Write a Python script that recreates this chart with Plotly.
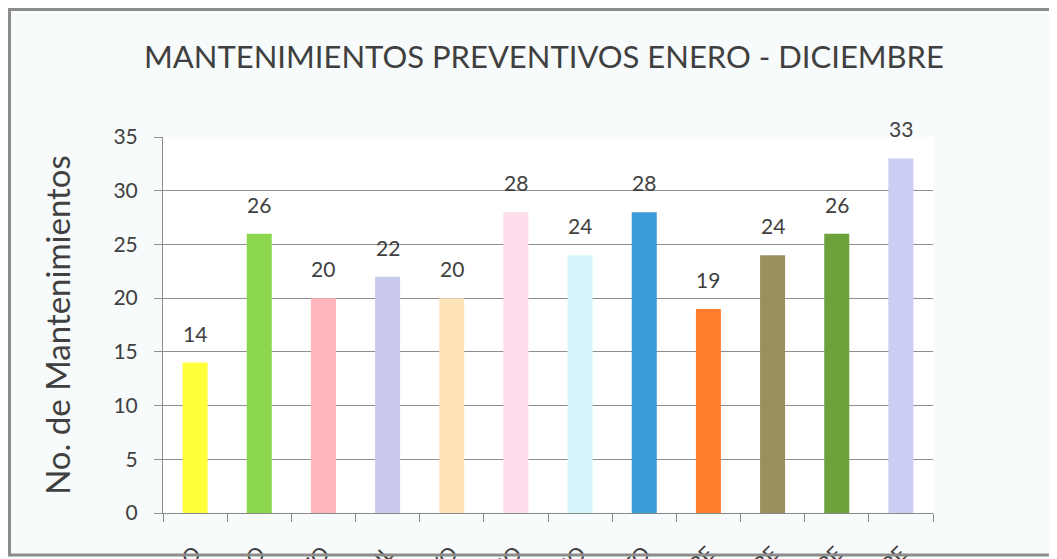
import plotly.graph_objects as go

months = ["ENERO", "FEBRERO", "MARZO", "ABRIL", "MAYO", "JUNIO", "JULIO",
          "AGOSTO", "SEPTIEMBRE", "OCTUBRE", "NOVIEMBRE", "DICIEMBRE"]
values = [14, 26, 20, 22, 20, 28, 24, 28, 19, 24, 26, 33]
colors = ["#FFFF3A", "#8CD64E", "#FFB5BB", "#C9C9F0", "#FEE3B8", "#FDDCEB",
          "#D6F4FA", "#3C9BDB", "#FF7F2F", "#9A8F5E", "#6CA23C", "#CACDF4"]
y_ticks = [0, 5, 10, 15, 20, 25, 30, 35]

FONT = "Lato"
TXT = "#404040"

# page body has an 8px margin; lay out in reference pixel coordinates
OFF = 8
W, H = 1057 - OFF, 559 - OFF
AX_L, AX_R, AX_T, AX_B = 163, 933, 137, 513   # plot area in reference px
L, T = AX_L - OFF, AX_T - OFF
R, B = W - (AX_R - OFF), H - (AX_B - OFF)
pw, ph = AX_R - AX_L, AX_B - AX_T

def px_x(x):
    return (x - AX_L) / pw

def px_y(y):
    return (AX_B - y) / ph

fig = go.Figure()
fig.add_trace(go.Bar(
    x=months, y=values, marker_color=colors, marker_line_width=0,
    width=0.39, hoverinfo="x+y",
))
for m, v in zip(months, values):
    fig.add_annotation(x=m, y=v, text=str(v), showarrow=False,
                       yanchor="bottom", yshift=15,
                       font=dict(family=FONT, size=21, color=TXT))

fig.update_layout(
    width=W, height=H,
    margin=dict(l=L, r=R, t=T, b=B, autoexpand=False),
    paper_bgcolor="#F8FBFB", plot_bgcolor="#FFFFFF",
    showlegend=False,
    title=dict(text="MANTENIMIENTOS PREVENTIVOS ENERO - DICIEMBRE",
               x=((148 + 940) / 2 - OFF) / W, xanchor="center",
               y=1 - (57 - OFF) / H, yanchor="middle",
               font=dict(family=FONT, size=31, color=TXT)),
    shapes=[dict(type="rect", xref="paper", yref="paper",
                 x0=px_x(9.5), x1=px_x(1075), y0=px_y(555), y1=px_y(9.5),
                 line=dict(color="#8C8C8C", width=3), layer="above")],
)
fig.update_xaxes(
    type="category", showgrid=False, showline=True, linecolor="#8A8A8A",
    linewidth=1, ticks="outside", tickson="boundaries", ticklen=8,
    tickcolor="#8A8A8A", tickangle=-45, ticklabelstandoff=19,
    tickfont=dict(family=FONT, size=21, color=TXT), automargin=False,
)
fig.update_yaxes(
    range=[0, 35], tickvals=y_ticks, showgrid=True, gridcolor="#8E8E8E",
    gridwidth=1, showline=True, linecolor="#8A8A8A", linewidth=1,
    ticks="outside", ticklen=8, tickcolor="#8E8E8E", zeroline=False,
    ticklabelstandoff=12,
    tickfont=dict(family=FONT, size=21, color=TXT), automargin=False,
    title=dict(text="No. de Mantenimientos", standoff=32,
               font=dict(family=FONT, size=33, color=TXT)),
)
fig.write_html("out.html")
